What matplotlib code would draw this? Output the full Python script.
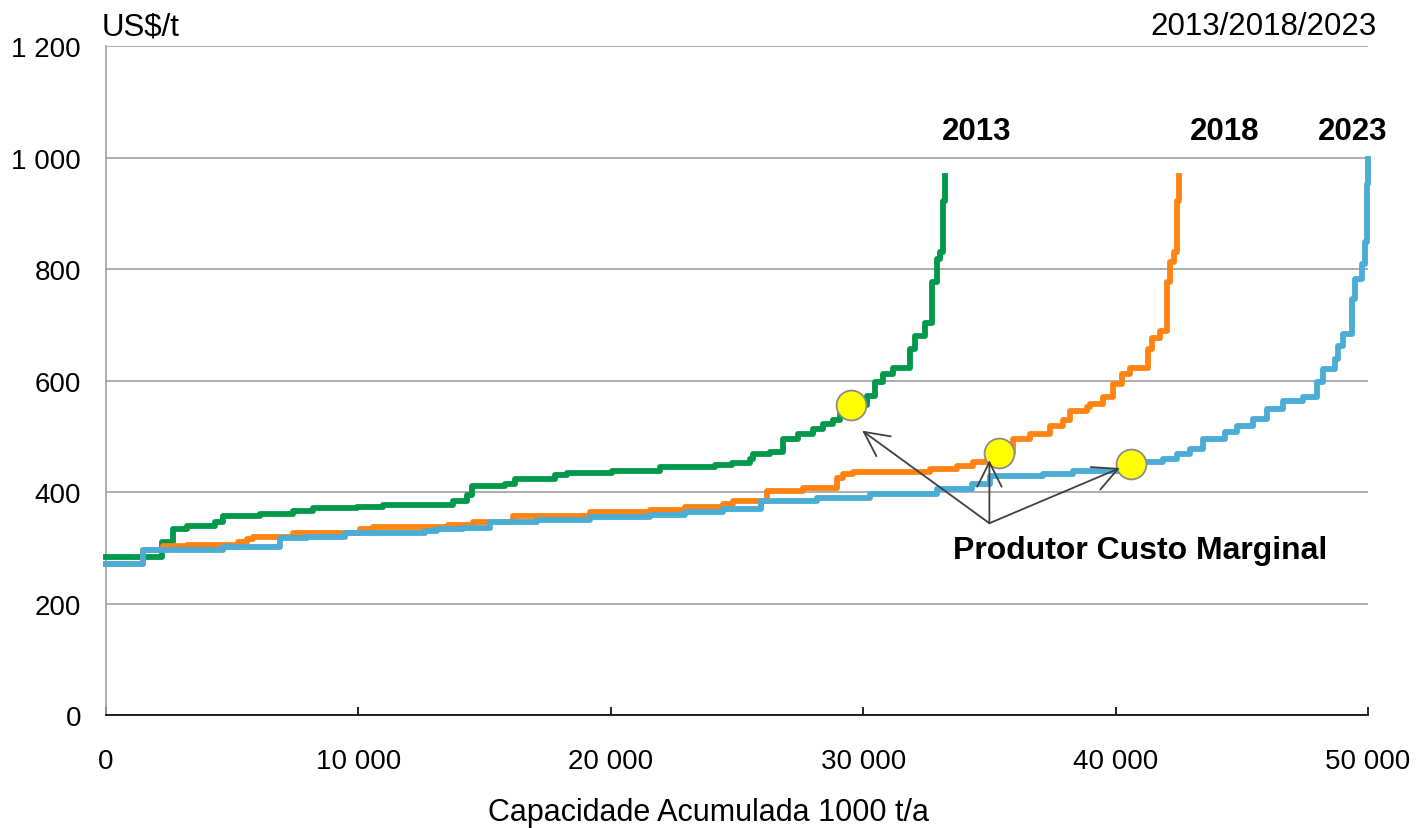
import matplotlib.pyplot as plt
from matplotlib.ticker import FuncFormatter

plt.rcParams['font.family'] = ['Liberation Sans', 'DejaVu Sans']

# Capacidade acumulada (1000 t/a) et coût (US$/t) aux points de changement de palier
x_2013 = [0, 2200, 2670, 3200, 4320, 4650, 6100, 7420, 8210, 9930, 10990, 13760, 14290, 14490,
          15810, 16200, 17790, 18250, 20030, 21950, 24130, 24790, 25520, 25630, 26310, 26830,
          27430, 28020, 28400, 28800, 29080, 29500, 30140, 30470, 30800, 31190, 31850, 32050,
          32450, 32710, 32910, 33040, 33170, 33240]
y_2013 = [283, 310, 334, 339, 346, 357, 360, 366, 371, 373, 377, 384, 395, 411,
          414, 423, 430, 434, 438, 445, 448, 452, 460, 468, 472, 495,
          504, 513, 522, 530, 540, 556, 573, 597, 612, 622, 656, 680,
          704, 776, 818, 830, 922, 967]

x_2018 = [0, 1480, 2270, 3200, 5240, 5570, 5840, 7420, 10060, 10590, 13560, 14550, 16140, 19180,
          21550, 22940, 24460, 24850, 26170, 27630, 28950, 29210, 29610, 32650, 33700, 34360,
          35000, 35400, 35950, 36610, 37400, 37930, 38190, 38850, 38990, 39510, 39910, 40240,
          40570, 41300, 41430, 41760, 42020, 42160, 42310, 42420, 42510]
y_2018 = [270, 296, 303, 305, 310, 315, 320, 326, 334, 338, 341, 346, 357, 364,
          368, 374, 378, 384, 402, 407, 426, 432, 436, 441, 447, 453,
          460, 470, 495, 504, 519, 530, 545, 552, 558, 571, 594, 612,
          622, 656, 677, 689, 776, 812, 830, 922, 967]

x_2023 = [0, 1480, 4650, 6890, 7950, 9470, 12640, 13100, 14160, 15210, 17060, 19180, 21550,
          22940, 24460, 25970, 28160, 30270, 32910, 34300, 35020, 37140, 38330, 40570, 41100,
          41890, 42420, 42950, 43480, 44340, 44800, 45460, 45990, 46650, 47440, 47970, 48230,
          48690, 48820, 49020, 49350, 49480, 49750, 49880, 49950, 50020]
y_2023 = [271, 296, 301, 317, 320, 326, 330, 334, 336, 347, 350, 355, 359,
          364, 370, 384, 390, 396, 405, 414, 428, 432, 438, 450, 454,
          459, 468, 477, 495, 507, 519, 531, 549, 564, 570, 597, 621,
          639, 662, 683, 746, 782, 809, 848, 952, 997]

# Produtor de custo marginal pour chaque année
marg_x = [29500, 35400, 40600]
marg_y = [556, 470, 450]

anos = ['2013', '2018', '2023']
cores = ['#00994C', '#FF8414', '#4BACD6']
pos_ano = [34500, 44330, 49400]

fig = plt.figure(figsize=(14.18, 8.29), dpi=100)
ax = fig.add_axes([0.0748, 0.1363, 0.8899, 0.807])

for xs, ys, c in zip([x_2013, x_2018, x_2023], [y_2013, y_2018, y_2023], cores):
    ax.plot(xs, ys, drawstyle='steps-post', color=c, lw=4.2, clip_on=False, zorder=3)

ax.plot(marg_x, marg_y, 'o', ms=21.5, mfc='#FFFF00', mec='#8C8C8C', mew=1.3, zorder=5)

# étiquettes des années au-dessus des courbes
for a, px in zip(anos, pos_ano):
    ax.text(px, 1048, a, ha='center', va='center', fontsize=22.5, fontweight='bold')

# flèches vers les points de custo marginal
apex = (35000, 344)
alvos = [(29960, 510), (35000, 457), (40170, 443)]
for alvo in alvos:
    ax.annotate('', xy=alvo, xytext=apex,
                arrowprops=dict(arrowstyle='->,head_length=0.8,head_width=0.4',
                                color='#404040', lw=1.3, mutation_scale=22,
                                shrinkA=0, shrinkB=0), zorder=6)
ax.text(33560, 296, 'Produtor Custo Marginal', ha='left', va='center',
        fontsize=23, fontweight='bold')

ax.set_xlim(0, 50000)
ax.set_ylim(0, 1200)
ax.set_xticks(range(0, 50001, 10000))
ax.set_yticks(range(0, 1201, 200))
fmt = FuncFormatter(lambda v, p: f"{v:,.0f}".replace(',', ' '))
ax.xaxis.set_major_formatter(fmt)
ax.yaxis.set_major_formatter(fmt)

ax.grid(axis='y', color='#A0A0A0', lw=1.2)
ax.set_axisbelow(True)
for s in ['top', 'right']:
    ax.spines[s].set_visible(False)
ax.spines['left'].set_color('#A0A0A0')
ax.spines['left'].set_linewidth(1.2)
ax.spines['bottom'].set_color('black')
ax.spines['bottom'].set_linewidth(1.2)
ax.spines['bottom'].set_zorder(4)

ax.tick_params(axis='x', direction='in', length=6, width=1.2, pad=24, labelsize=20)
ax.tick_params(axis='y', length=0, pad=18, labelsize=20)

fig.text(708 / 1418, 1 - 813 / 829, 'Capacidade Acumulada 1000 t/a', ha='center', va='center',
         fontsize=22)
fig.text(102 / 1418, 1 - 27 / 829, 'US$/t', ha='left', va='center', fontsize=22.5)
fig.text(1377 / 1418, 1 - 27 / 829, '2013/2018/2023', ha='right', va='center', fontsize=22.5)

plt.savefig('out.png')
